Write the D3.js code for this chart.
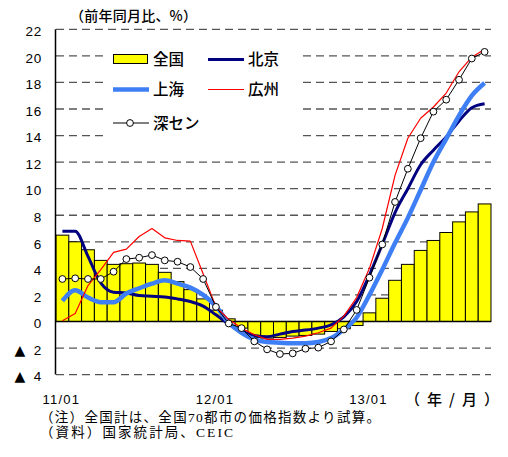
<!DOCTYPE html>
<html>
<head>
<meta charset="utf-8">
<script src="https://cdn.jsdelivr.net/npm/d3@7"></script>
<style>
  body { margin: 0; background: #fff; }
  svg text { font-family: "Liberation Sans", Arial, sans-serif; fill: #000; }
  svg text.jp { font-family: "Noto Sans CJK JP", sans-serif; }
  svg text.note { font-family: "Liberation Serif", "Noto Sans CJK JP", serif; }
</style>
</head>
<body>
<svg id="chart"></svg>
<script>
"use strict";

// 2011/01 - 2013/10
var months = [
  "11/01", "11/02", "11/03", "11/04", "11/05", "11/06", "11/07", "11/08", "11/09", "11/10", "11/11", "11/12",
  "12/01", "12/02", "12/03", "12/04", "12/05", "12/06", "12/07", "12/08", "12/09", "12/10", "12/11", "12/12",
  "13/01", "13/02", "13/03", "13/04", "13/05", "13/06", "13/07", "13/08", "13/09", "13/10"
];
var tickMonths = ["11/01", "12/01", "13/01"];
var yTicks = [-4, -2, 0, 2, 4, 6, 8, 10, 12, 14, 16, 18, 20, 22];

// 前年同月比 (%)
var national = [6.5, 6.0, 5.4, 4.6, 4.3, 4.35, 4.4, 4.3, 3.7, 3.0, 2.4, 1.7,
  0.85, 0.2, -0.5, -1.2, -1.25, -1.2, -1.1, -1.05, -0.95, -0.75, -0.55, -0.3,
  0.65, 1.75, 3.1, 4.3, 5.35, 6.1, 6.7, 7.5, 8.25, 8.85];
var beijing = [6.8, 6.8, 4.9, 2.9, 2.2, 2.15, 1.95, 1.9, 1.85, 1.7, 1.5, 1.15,
  0.5, -0.2, -0.7, -1.05, -1.15, -0.95, -0.75, -0.65, -0.5, -0.25, 0.35, 1.5,
  3.5, 5.8, 8.2, 10.0, 11.8, 12.9, 13.9, 15.1, 16.1, 16.4];
var shanghai = [1.55, 2.35, 1.8, 1.45, 1.45, 2.1, 2.5, 2.85, 3.1, 2.85, 2.55, 2.0,
  1.15, -0.1, -0.85, -1.35, -1.55, -1.6, -1.64, -1.64, -1.55, -1.25, -0.6, 0.3,
  2.0, 3.9, 5.9, 7.8, 9.9, 12.0, 13.75, 15.5, 17.0, 17.95];
var guangzhou = [0.05, 0.6, 2.7, 3.9, 5.2, 5.45, 6.4, 7.0, 6.3, 6.1, 6.05, 3.6,
  1.1, 0.15, -0.5, -1.0, -1.35, -1.35, -1.25, -1.1, -0.85, -0.5, 0.4, 1.8,
  4.0, 7.0, 11.0, 13.8, 15.3, 16.15, 17.2, 18.8, 19.9, 20.5];
var shenzhen = [3.2, 3.25, 3.2, 3.2, 3.75, 4.7, 4.8, 5.0, 4.6, 4.5, 4.1, 3.2,
  1.1, -0.15, -0.5, -1.5, -2.1, -2.45, -2.4, -2.05, -1.97, -1.5, -0.6, 0.87,
  3.3, 5.8, 9.0, 11.5, 13.8, 15.8, 16.7, 18.2, 19.8, 20.3];

var legendNames = ["全国", "北京", "上海", "広州", "深セン"];
var titleText = "（前年同月比、%）";
var unitText = "（年/月）";
var notes = ["（注）全国計は、全国70都市の価格指数より試算。", "（資料）国家統計局、CEIC"];

var config = {
  width: 508,
  height: 457,
  plot: { left: 56, right: 491, top: 29.3, bottom: 374.6 }
};

var svg = d3.select("#chart")
  .attr("width", config.width)
  .attr("height", config.height);

var xScale = d3.scaleBand()
  .domain(months)
  .range([config.plot.left, config.plot.right])
  .padding(0);

var yScale = d3.scaleLinear()
  .domain([-4, 22])
  .range([config.plot.bottom, config.plot.top]);

var bw = xScale.bandwidth();
function cx(i) { return xScale(months[i]) + bw / 2; }

// grid lines (dashed), zero line drawn later as solid
svg.append("g")
  .selectAll("line")
  .data(yTicks.filter(function(d) { return d !== 0; }))
  .enter().append("line")
  .attr("x1", config.plot.left)
  .attr("x2", config.plot.right)
  .attr("y1", function(d) { return yScale(d); })
  .attr("y2", function(d) { return yScale(d); })
  .attr("stroke", "#555")
  .attr("stroke-width", 1.3)
  .attr("stroke-dasharray", "8,5");

// y tick labels
var yLabels = svg.append("g");
yLabels.selectAll("text.num")
  .data(yTicks)
  .enter().append("text")
  .attr("class", "num")
  .attr("x", 42)
  .attr("y", function(d) { return yScale(d) + 6.8; })
  .attr("text-anchor", "end")
  .attr("font-size", 13.5)
  .attr("letter-spacing", 0.8)
  .text(function(d) { return Math.abs(d); });
yLabels.selectAll("text.neg")
  .data(yTicks.filter(function(d) { return d < 0; }))
  .enter().append("text")
  .attr("class", "neg")
  .attr("x", 20)
  .attr("y", function(d) { return yScale(d) + 6.5; })
  .attr("text-anchor", "middle")
  .attr("font-size", 14)
  .style("font-family", "'DejaVu Sans', sans-serif")
  .text("▲");

// bars
svg.append("g")
  .selectAll("rect")
  .data(national)
  .enter().append("rect")
  .attr("x", function(d, i) { return xScale(months[i]); })
  .attr("y", function(d) { return yScale(Math.max(0, d)); })
  .attr("width", bw)
  .attr("height", function(d) { return Math.abs(yScale(d) - yScale(0)); })
  .attr("fill", "#ffff00")
  .attr("stroke", "#000")
  .attr("stroke-width", 1);

// zero line and y axis
svg.append("line")
  .attr("x1", config.plot.left).attr("x2", config.plot.right)
  .attr("y1", yScale(0)).attr("y2", yScale(0))
  .attr("stroke", "#000").attr("stroke-width", 1.5);
svg.append("line")
  .attr("x1", config.plot.left - 0.5).attr("x2", config.plot.left - 0.5)
  .attr("y1", config.plot.top).attr("y2", config.plot.bottom)
  .attr("stroke", "#000").attr("stroke-width", 1.5);

// legend background
svg.append("rect")
  .attr("x", 107).attr("y", 38)
  .attr("width", 193).attr("height", 106)
  .attr("fill", "#fff");

// lines
function drawLine(values, color, width, curve) {
  var line = d3.line()
    .x(function(d, i) { return cx(i); })
    .y(function(d) { return yScale(d); })
    .curve(curve);
  svg.append("path")
    .datum(values)
    .attr("d", line)
    .attr("fill", "none")
    .attr("stroke", color)
    .attr("stroke-width", width)
    .attr("stroke-linejoin", "round");
}

drawLine(beijing, "#000080", 3, d3.curveMonotoneX);
drawLine(shanghai, "#3f7ff5", 4.5, d3.curveMonotoneX);
drawLine(guangzhou, "#ff0000", 1.2, d3.curveLinear);
drawLine(shenzhen, "#000", 1, d3.curveLinear);

svg.append("g")
  .selectAll("circle")
  .data(shenzhen)
  .enter().append("circle")
  .attr("cx", function(d, i) { return cx(i); })
  .attr("cy", function(d) { return yScale(d); })
  .attr("r", 3.4)
  .attr("fill", "#fff")
  .attr("stroke", "#000")
  .attr("stroke-width", 1);

// legend items
var legend = svg.append("g");
legend.append("rect")
  .attr("x", 113.5).attr("y", 54.5).attr("width", 34).attr("height", 9)
  .attr("fill", "#ffff00").attr("stroke", "#000").attr("stroke-width", 1);
var legendLines = [
  { x: 208, y: 59.5, color: "#000080", w: 3 },
  { x: 113, y: 89.5, color: "#3f7ff5", w: 4.5 },
  { x: 208, y: 89.5, color: "#ff0000", w: 1.2 },
  { x: 113, y: 123, color: "#000", w: 1 }
];
legend.selectAll("line")
  .data(legendLines)
  .enter().append("line")
  .attr("x1", function(d) { return d.x; })
  .attr("x2", function(d) { return d.x + 36; })
  .attr("y1", function(d) { return d.y; })
  .attr("y2", function(d) { return d.y; })
  .attr("stroke", function(d) { return d.color; })
  .attr("stroke-width", function(d) { return d.w; });
legend.append("circle")
  .attr("cx", 130).attr("cy", 123).attr("r", 3.4)
  .attr("fill", "#fff").attr("stroke", "#000");

var legendPos = [[153, 59.5], [248, 59.5], [153, 89.5], [248, 89.5], [153, 123]];
legend.selectAll("text")
  .data(legendNames)
  .enter().append("text")
  .attr("class", "jp")
  .attr("x", function(d, i) { return legendPos[i][0]; })
  .attr("y", function(d, i) { return legendPos[i][1] + 5.5; })
  .attr("font-size", 15.5)
  .attr("font-weight", 500)
  .text(function(d) { return d; });

// x tick labels
svg.append("g")
  .selectAll("text")
  .data(tickMonths)
  .enter().append("text")
  .attr("x", function(d) { return xScale(d) + bw / 2 - 1; })
  .attr("y", 403.5)
  .attr("text-anchor", "middle")
  .attr("font-size", 13)
  .attr("letter-spacing", 1.2)
  .text(function(d) { return d; });

// titles and notes
svg.append("text")
  .attr("class", "jp")
  .attr("x", 70).attr("y", 20.5)
  .attr("font-size", 14)
  .attr("font-weight", 500)
  .attr("textLength", 127)
  .attr("lengthAdjust", "spacing")
  .text(titleText);

svg.append("text")
  .attr("class", "jp")
  .attr("x", 405).attr("y", 405)
  .attr("font-size", 15)
  .attr("font-weight", 500)
  .attr("textLength", 94)
  .attr("lengthAdjust", "spacing")
  .text(unitText);

svg.append("g")
  .selectAll("text")
  .data(notes)
  .enter().append("text")
  .attr("class", "note")
  .attr("x", 40)
  .attr("y", function(d, i) { return 421.5 + i * 15; })
  .attr("font-size", 13.5)
  .attr("textLength", function(d, i) { return i === 0 ? 340 : 193; })
  .attr("lengthAdjust", "spacing")
  .text(function(d) { return d; });
</script>
</body>
</html>
